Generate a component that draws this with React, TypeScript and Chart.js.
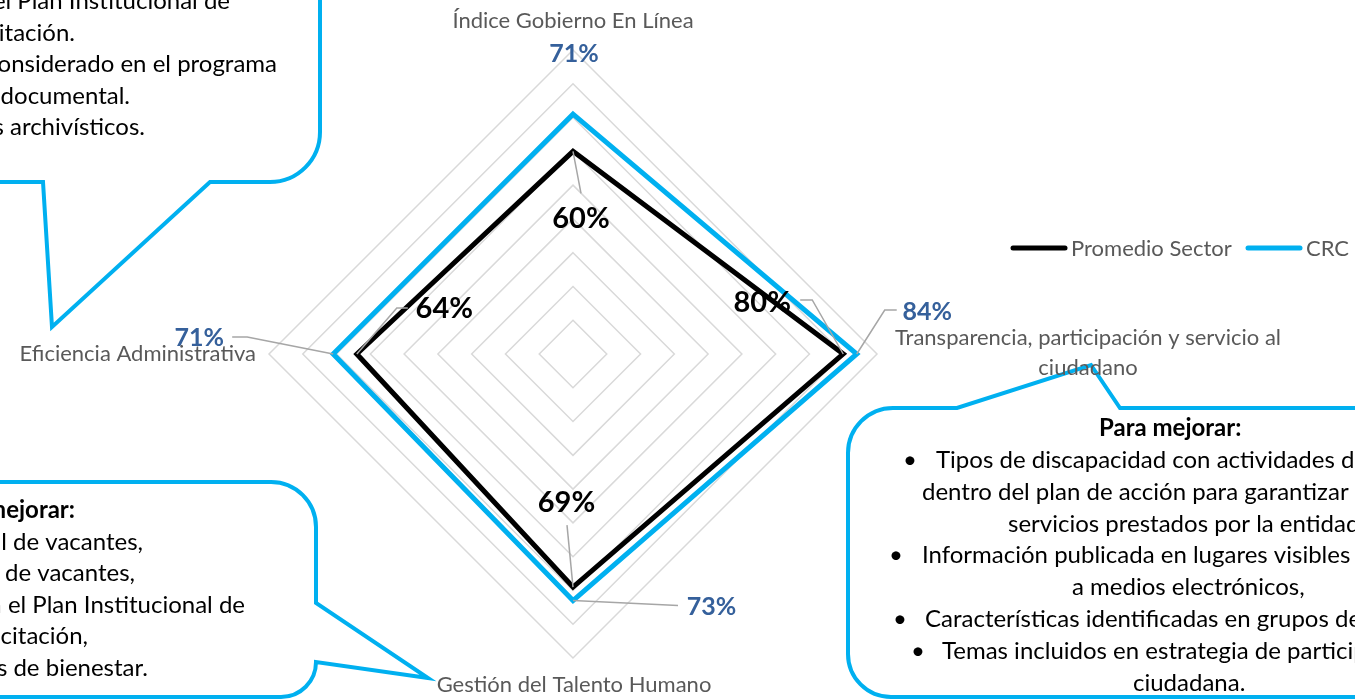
import React, { useEffect, useRef } from "react";
import { Chart, registerables } from "chart.js";
Chart.register(...registerables);

const categories: string[][] = [
  ["Índice Gobierno En Línea"],
  ["Transparencia, participación y servicio al", "ciudadano"],
  ["Gestión del Talento Humano"],
  ["Eficiencia Administrativa"],
];
const seriesNames = ["Promedio Sector", "CRC"];
const sectorValues = [60, 80, 69, 64];
const crcValues = [71, 84, 73, 71];
const scaleMax = 90;
const scaleStep = 10;

const noteTopLeft = [
  "•   Temas incluidos en el Plan Institucional de",
  "Capacitación.",
  "•   Tema considerado en el programa",
  "de gestión documental.",
  "•   Instrumentos archivísticos.",
];
const noteBottomLeft = [
  "Para mejorar:",
  "•   Provisión temporal de vacantes,",
  "•   Provisión definitiva de vacantes,",
  "•   Temas incluidos en el Plan Institucional de",
  "Capacitación,",
  "•   Programas de bienestar.",
];
const noteRight = [
  "Para mejorar:",
  "Tipos de discapacidad con actividades definidas",
  "dentro del plan de acción para garantizar el acceso a los",
  "servicios prestados por la entidad,",
  "Información publicada en lugares visibles diferentes",
  "a medios electrónicos,",
  "Características identificadas en grupos de valor",
  "Temas incluidos en estrategia de participación",
  "ciudadana.",
];
const noteRightBullets = [false, true, false, false, true, false, true, true, false];

const FONT = "Lato, 'Open Sans', sans-serif";
const BLUE = "#00B0F0";
const GRAY_TEXT = "#595959";
const LABEL_BLUE = "#35609B";

const overlayPlugin = {
  id: "overlay",
  beforeDraw(chart: any) {
    const ctx = chart.ctx as CanvasRenderingContext2D;
    ctx.save();
    ctx.strokeStyle = BLUE;
    ctx.lineWidth = 4;
    ctx.lineJoin = "miter";
    // top-left callout
    ctx.beginPath();
    ctx.moveTo(320, -10);
    ctx.lineTo(320, 132);
    ctx.arcTo(320, 182, 270, 182, 50);
    ctx.lineTo(210, 182);
    ctx.lineTo(52, 327);
    ctx.lineTo(43, 182);
    ctx.lineTo(-10, 182);
    ctx.stroke();
    // bottom-left callout
    ctx.beginPath();
    ctx.moveTo(-10, 482);
    ctx.lineTo(271, 482);
    ctx.arcTo(316, 482, 316, 527, 45);
    ctx.lineTo(316, 603);
    ctx.lineTo(428, 678);
    ctx.lineTo(316, 662);
    ctx.arcTo(316, 697, 281, 697, 35);
    ctx.lineTo(-10, 697);
    ctx.stroke();
    // bottom-right callout
    ctx.beginPath();
    ctx.moveTo(1365, 408);
    ctx.lineTo(1120, 408);
    ctx.lineTo(1091, 365);
    ctx.lineTo(957, 408);
    ctx.lineTo(893, 408);
    ctx.arcTo(848, 408, 848, 453, 45);
    ctx.lineTo(848, 654);
    ctx.arcTo(848, 697, 891, 697, 43);
    ctx.lineTo(1365, 697);
    ctx.stroke();

    // callout texts
    ctx.fillStyle = "#000";
    ctx.textBaseline = "alphabetic";
    const tlEnds = [230, 75, 277, 130, 145];
    const tlBase = [9, 40.5, 72, 103.5, 135];
    ctx.textAlign = "right";
    ctx.font = `24px ${FONT}`;
    noteTopLeft.forEach((t, i) => ctx.fillText(t, tlEnds[i], tlBase[i]));
    const blEnds = [75, 143, 135, 245, 88, 148];
    const blBase = [518, 549.5, 581, 612.5, 644, 675.5];
    noteBottomLeft.forEach((t, i) => {
      ctx.font = i === 0 ? `bold 24px ${FONT}` : `24px ${FONT}`;
      ctx.fillText(t, blEnds[i], blBase[i]);
    });
    const rX = [1099, 936, 922, 1008, 922, 1072, 925, 942, 1133];
    const rBullet = [0, 903, 0, 0, 889, 0, 893, 911, 0];
    const rBase = [436, 468, 500, 532, 563, 595, 627, 659, 691];
    ctx.textAlign = "left";
    noteRight.forEach((t, i) => {
      ctx.font = i === 0 ? `bold 24px ${FONT}` : `24px ${FONT}`;
      ctx.fillText(t, rX[i], rBase[i]);
      if (noteRightBullets[i]) ctx.fillText("•", rBullet[i], rBase[i]);
    });
    ctx.restore();
  },
  afterDatasetsDraw(chart: any) {
    const ctx = chart.ctx as CanvasRenderingContext2D;
    const scale = chart.scales.r;
    ctx.save();

    // leader lines
    const leaders: number[][][][] = [
      [
        [[0, 0], [8, 42]],
        [[0, 0], [-31, -54], [-43, -54]],
        [[0, 0], [-6, -62]],
        [[0, 0], [40, -46], [51, -46]],
      ],
      [
        [],
        [[0, 0], [28, -44], [40, -44]],
        [[0, 0], [105, 5]],
        [[0, 0], [-86, -17], [-101, -17]],
      ],
    ];
    ctx.strokeStyle = "#A6A6A6";
    ctx.lineWidth = 1.5;
    [0, 1].forEach((d) => {
      const meta = chart.getDatasetMeta(d);
      meta.data.forEach((pt: any, i: number) => {
        const poly = leaders[d][i];
        if (!poly.length) return;
        ctx.beginPath();
        poly.forEach(([dx, dy], k) => {
          if (k === 0) ctx.moveTo(pt.x + dx, pt.y + dy);
          else ctx.lineTo(pt.x + dx, pt.y + dy);
        });
        ctx.stroke();
      });
    });

    // data labels
    const offsets = [
      [[8, 77], [-81, -42], [-6.5, -75], [87.5, -36]],
      [[1, -52], [70.5, -34], [138.5, 14.5], [-134, -8]],
    ];
    ctx.textAlign = "center";
    ctx.textBaseline = "alphabetic";
    [0, 1].forEach((d) => {
      const meta = chart.getDatasetMeta(d);
      const values = chart.data.datasets[d].data as number[];
      ctx.font = d === 0 ? `bold 29px ${FONT}` : `bold 25px ${FONT}`;
      ctx.fillStyle = d === 0 ? "#000000" : LABEL_BLUE;
      meta.data.forEach((pt: any, i: number) => {
        const [dx, dy] = offsets[d][i];
        ctx.fillText(`${values[i]}%`, pt.x + dx, pt.y + dy);
      });
    });

    // category labels
    ctx.font = `22px ${FONT}`;
    ctx.fillStyle = GRAY_TEXT;
    const catPos = [
      { dx: 0, dy: -22, align: "center" },
      { dx: 211, dy: -9, align: "center" },
      { dx: 1, dy: 34, align: "center" },
      { dx: -13, dy: 7, align: "right" },
    ];
    (chart.data.labels as string[][]).forEach((lines, i) => {
      const p = scale.getPointPositionForValue(i, scaleMax);
      const c = catPos[i];
      ctx.textAlign = c.align as CanvasTextAlign;
      lines.forEach((ln, k) => ctx.fillText(ln, p.x + c.dx, p.y + c.dy + k * 30));
    });

    // legend
    ctx.font = `22px ${FONT}`;
    ctx.textAlign = "left";
    ctx.textBaseline = "middle";
    const legendX = [1013, 1248];
    const legendY = 248;
    chart.data.datasets.forEach((ds: any, d: number) => {
      ctx.strokeStyle = ds.borderColor;
      ctx.lineWidth = 5;
      ctx.lineCap = "round";
      ctx.beginPath();
      ctx.moveTo(legendX[d], legendY);
      ctx.lineTo(legendX[d] + 52, legendY);
      ctx.stroke();
      ctx.fillStyle = GRAY_TEXT;
      ctx.fillText(ds.label, legendX[d] + 58, legendY + 1);
    });
    ctx.restore();
  },
};

export default function App() {
  const ref = useRef<HTMLCanvasElement>(null);
  useEffect(() => {
    const chart = new Chart(ref.current as HTMLCanvasElement, {
      type: "radar",
      data: {
        labels: categories,
        datasets: [
          {
            label: seriesNames[0],
            data: sectorValues,
            borderColor: "#000000",
            backgroundColor: "transparent",
            borderWidth: 5,
            pointRadius: 0,
            fill: false,
            order: 1,
            borderJoinStyle: "miter",
          },
          {
            label: seriesNames[1],
            data: crcValues,
            borderColor: BLUE,
            backgroundColor: "transparent",
            borderWidth: 5,
            pointRadius: 0,
            fill: false,
            order: 0,
            borderJoinStyle: "miter",
          },
        ],
      },
      options: {
        responsive: false,
        animation: false,
        events: [],
        layout: { padding: { left: 269, right: 478, top: 50, bottom: 42 } },
        plugins: { legend: { display: false }, tooltip: { enabled: false } },
        scales: {
          r: {
            min: 0,
            max: scaleMax,
            ticks: { display: false, stepSize: scaleStep },
            grid: { color: "#D9D9D9", lineWidth: 1.5 },
            angleLines: { display: false },
            pointLabels: { display: false },
          },
        },
      } as any,
      plugins: [overlayPlugin],
    });
    return () => chart.destroy();
  }, []);
  return (
    <div style={{ position: "fixed", left: 0, top: 0, width: 1355, height: 700, background: "#fff" }}>
      <canvas ref={ref} width={1355} height={700} style={{ display: "block" }} />
    </div>
  );
}
